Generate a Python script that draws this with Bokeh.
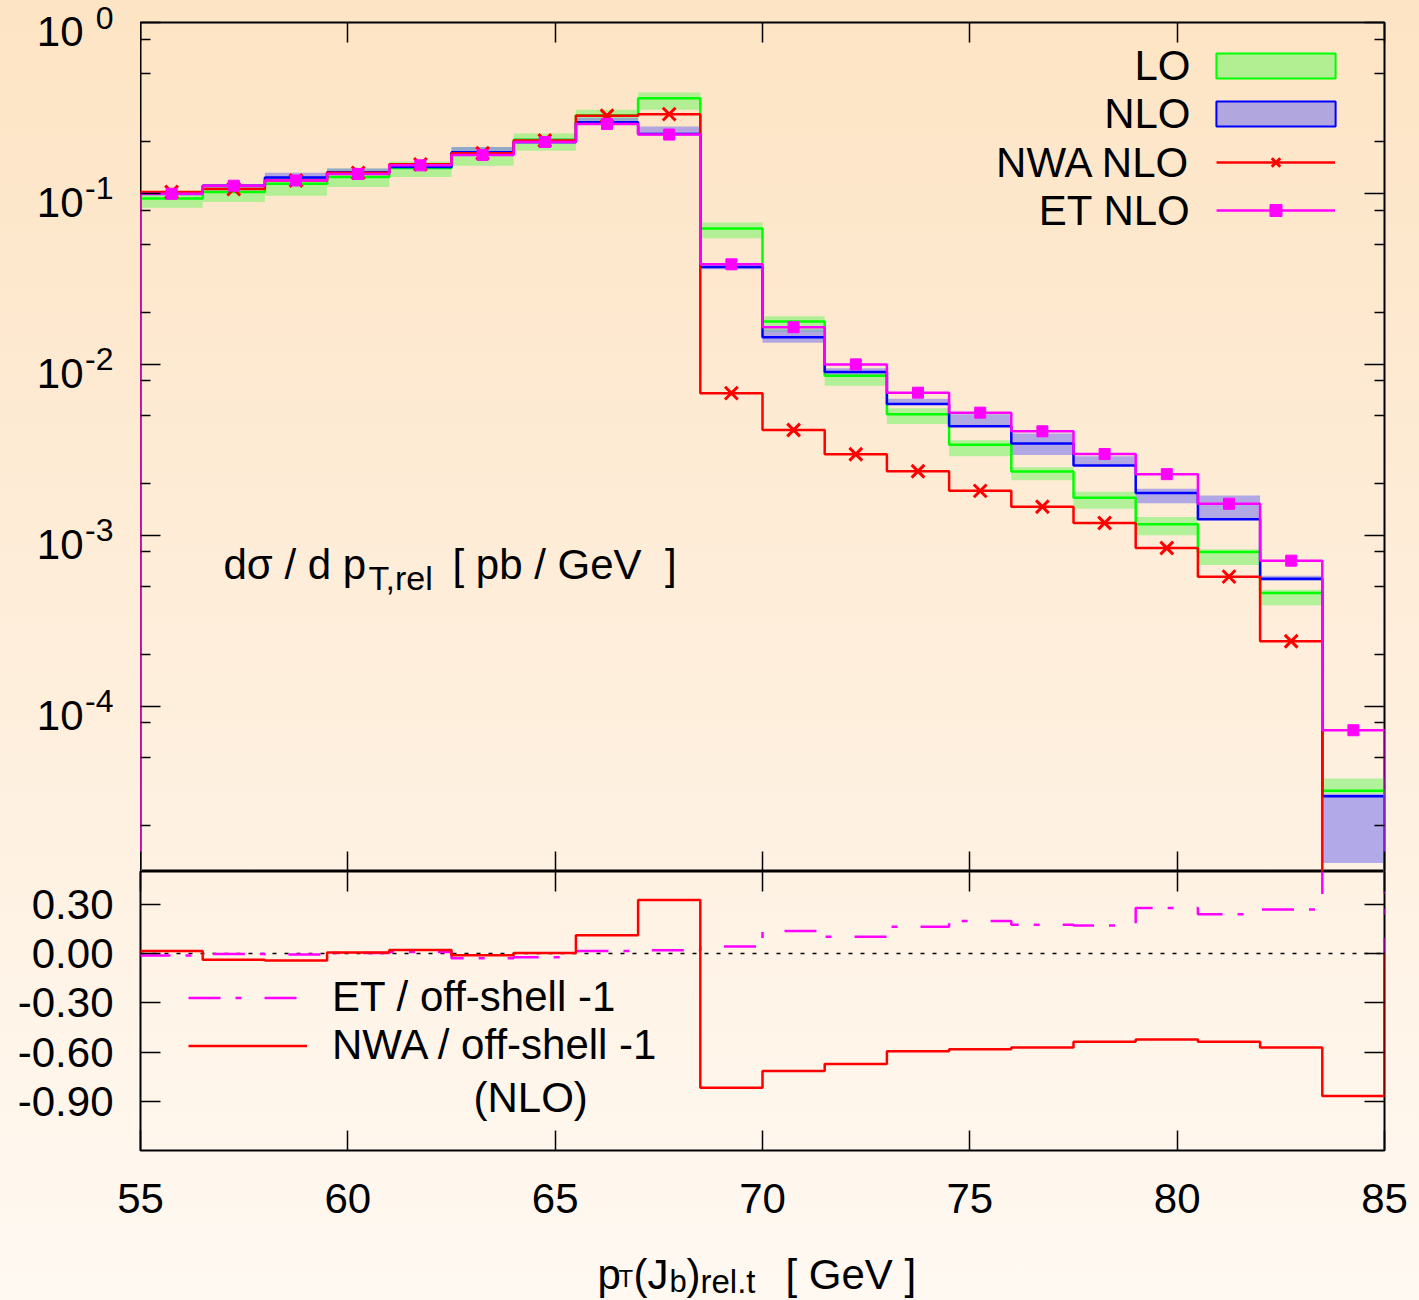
import numpy as np
from bokeh.plotting import figure
from bokeh.layouts import column, row
from bokeh.models import (Range1d, LinearAxis, LogAxis, FixedTicker, Label, Legend,
                          LegendItem, Span, NumeralTickFormatter)
from bokeh.embed import file_html
from bokeh.resources import INLINE

# ---------------- data ----------------
bin_edges = [55.0, 56.5, 58.0, 59.5, 61.0, 62.5, 64.0, 65.5, 67.0, 68.5, 70.0,
             71.5, 73.0, 74.5, 76.0, 77.5, 79.0, 80.5, 82.0, 83.5, 85.0]

lo_central = [0.0935, 0.102, 0.114, 0.125, 0.141, 0.170, 0.206, 0.287, 0.361, 0.0624,
              0.0178, 0.00859, 0.00510, 0.00339, 0.00236, 0.00166, 0.00116, 0.000798,
              0.000460, 3.20e-5]
lo_low = [0.0825, 0.089, 0.097, 0.109, 0.125, 0.145, 0.178, 0.267, 0.309, 0.0546,
          0.0155, 0.0075, 0.00448, 0.0029, 0.0021, 0.00143, 0.00100, 0.00067,
          0.00039, 3.08e-5]
lo_high = [0.0995, 0.111, 0.125, 0.140, 0.154, 0.187, 0.224, 0.309, 0.390, 0.0676,
           0.0191, 0.0088, 0.00553, 0.0036, 0.0025, 0.0018, 0.00128, 0.00083,
           0.00048, 3.78e-5]

nlo_central = [0.100, 0.111, 0.124, 0.133, 0.143, 0.174, 0.200, 0.261, 0.223, 0.0371,
               0.0144, 0.00902, 0.00586, 0.00434, 0.00345, 0.00256, 0.00177, 0.00124,
               0.000557, 2.98e-5]
nlo_low = [0.097, 0.107, 0.119, 0.128, 0.140, 0.168, 0.195, 0.255, 0.219, 0.0360,
           0.0134, 0.0087, 0.00583, 0.00430, 0.00295, 0.00255, 0.00154, 0.00124,
           0.00054, 1.21e-5]
nlo_high = [0.103, 0.113, 0.132, 0.140, 0.150, 0.187, 0.210, 0.277, 0.246, 0.0390,
            0.0160, 0.0095, 0.0063, 0.0051, 0.00394, 0.0029, 0.00187, 0.00171,
            0.00058, 3.08e-5]

nwa_nlo = [0.102, 0.106, 0.119, 0.132, 0.148, 0.172, 0.204, 0.285, 0.291, 0.00679,
           0.00413, 0.00298, 0.00237, 0.00182, 0.00147, 0.00118, 0.000843, 0.000573,
           0.000240, 3.9e-6]
et_nlo = [0.0995, 0.111, 0.119, 0.130, 0.146, 0.168, 0.200, 0.255, 0.221, 0.0385,
          0.0165, 0.0100, 0.00683, 0.00522, 0.00406, 0.00299, 0.00228, 0.00153,
          0.000711, 7.24e-5]

ratio_et = [-0.012, -0.002, -0.005, 0.003, 0.010, -0.028, -0.022, 0.016, 0.020, 0.043,
            0.138, 0.102, 0.163, 0.199, 0.175, 0.171, 0.277, 0.240, 0.268, 1.43]
ratio_nwa = [0.016, -0.037, -0.043, 0.006, 0.021, -0.010, 0.004, 0.112, 0.327, -0.817,
             -0.715, -0.673, -0.595, -0.583, -0.573, -0.538, -0.524, -0.538, -0.573, -0.868]

x_ticks = [55, 60, 65, 70, 75, 80, 85]
y_major_top = [1e-5, 1e-4, 1e-3, 1e-2, 1e-1, 1e0]
y_major_exps = ["-5", "-4", "-3", "-2", "-1", "0"]
y_minor_top = [2e-5, 5e-5, 8e-5, 2e-4, 5e-4, 8e-4, 2e-3, 5e-3, 8e-3,
               2e-2, 5e-2, 8e-2, 0.2, 0.5, 0.8]
ratio_ticks = [-0.9, -0.6, -0.3, 0.0, 0.3]

legend_top_labels = ["LO", "NLO", "NWA NLO", "ET NLO"]
legend_bot_labels = ["ET / off-shell -1", "NWA / off-shell -1"]

Y_MIN, Y_MAX = 1.08e-5, 1.0

# ---------------- styling ----------------
FONT = "Liberation Sans"
FS = "42px"
C_LO_LINE = "#00ff00"
C_NLO_LINE = "#0000ff"
C_NWA = "#ff0000"
C_ET = "#ff00ff"
C_LO_FILL = "#81f470"
C_NLO_FILL = "#7f7ced"
BAND_ALPHA = 0.6
LW = 2.5

TOP_PAD = 22          # px above the top frame
FRAME_H_TOP = 849     # px height of the main frame


def steps(vals, floor):
    xs = [bin_edges[0]]
    ys = [floor]
    for i, v in enumerate(vals):
        xs += [bin_edges[i], bin_edges[i + 1]]
        ys += [v, v]
    xs.append(bin_edges[-1])
    ys.append(floor)
    return xs, ys


centers = [(a + b) / 2 for a, b in zip(bin_edges[:-1], bin_edges[1:])]


def setup_axis(ax, ticker, show_labels, standoff=27):
    ax.ticker = ticker
    ax.axis_line_color = None
    ax.major_tick_in = 20
    ax.major_tick_out = 0
    ax.minor_tick_in = 10
    ax.minor_tick_out = 0
    ax.major_tick_line_color = "black"
    ax.major_tick_line_width = 1.5
    ax.minor_tick_line_color = "black"
    ax.minor_tick_line_width = 1.5
    if show_labels:
        ax.major_label_text_font = FONT
        ax.major_label_text_font_size = FS
        ax.major_label_text_color = "black"
        ax.major_label_standoff = standoff
    else:
        ax.major_label_text_font_size = "0px"
        ax.major_label_text_alpha = 0
        ax.major_label_standoff = 0


def text(fig, t, x, y, size=FS, align="left", x_units="screen", y_units="screen",
         y_offset=0):
    fig.add_layout(Label(x=x, y=y, x_units=x_units, y_units=y_units, text=t,
                         y_offset=y_offset, text_align=align, text_baseline="middle",
                         text_font=FONT, text_font_size=size, text_color="black"))


def blank(fig):
    fig.background_fill_alpha = 0
    fig.border_fill_alpha = 0
    fig.outline_line_color = None
    fig.grid.visible = False


x_range = Range1d(55, 85)

# ================= top panel =================
top = figure(width=1279, height=871, x_range=x_range, y_range=Range1d(Y_MIN, Y_MAX),
             y_axis_type="log", output_backend="svg", toolbar_location=None,
             min_border_left=0, min_border_right=35, min_border_top=TOP_PAD,
             min_border_bottom=0)
top.background_fill_alpha = 0
top.border_fill_alpha = 0
top.outline_line_color = "black"
top.outline_line_width = 2
top.grid.visible = False

setup_axis(top.yaxis[0], FixedTicker(ticks=y_major_top, minor_ticks=y_minor_top), False)
setup_axis(top.xaxis[0], FixedTicker(ticks=x_ticks, minor_ticks=[]), False)
r_ax = LogAxis()
setup_axis(r_ax, FixedTicker(ticks=y_major_top, minor_ticks=y_minor_top), False)
top.add_layout(r_ax, "right")
a_ax = LinearAxis()
setup_axis(a_ax, FixedTicker(ticks=x_ticks, minor_ticks=[]), False)
top.add_layout(a_ax, "above")

# bands
top.quad(left=bin_edges[:-1], right=bin_edges[1:], bottom=lo_low, top=lo_high,
         fill_color=C_LO_FILL, fill_alpha=BAND_ALPHA, line_color=None)
top.quad(left=bin_edges[:-1], right=bin_edges[1:], bottom=nlo_low, top=nlo_high,
         fill_color=C_NLO_FILL, fill_alpha=BAND_ALPHA, line_color=None)

FLOOR = 1e-9
xs, ys = steps(lo_central, FLOOR)
top.line(xs, ys, line_color=C_LO_LINE, line_width=LW)
xs, ys = steps(nlo_central, FLOOR)
top.line(xs, ys, line_color=C_NLO_LINE, line_width=LW)
xs, ys = steps(nwa_nlo, FLOOR)
nwa_line = top.line(xs, ys, line_color=C_NWA, line_width=LW)
nwa_pts = top.scatter(centers, nwa_nlo, marker="x", size=18, line_color=C_NWA, line_width=3)
xs, ys = steps(et_nlo, FLOOR)
et_line = top.line(xs, ys, line_color=C_ET, line_width=LW)
et_pts = top.scatter(centers, et_nlo, marker="square", size=11, fill_color=C_ET, line_color=C_ET)

# legend key renderers: same bands, bordered, hidden in the plot (legend swatch only)
lo_key = top.quad(left=bin_edges[:-1], right=bin_edges[1:], bottom=lo_low, top=lo_high,
                  fill_color=C_LO_FILL, fill_alpha=BAND_ALPHA, line_color=C_LO_LINE,
                  line_width=2, visible=False)
nlo_key = top.quad(left=bin_edges[:-1], right=bin_edges[1:], bottom=nlo_low, top=nlo_high,
                   fill_color=C_NLO_FILL, fill_alpha=BAND_ALPHA, line_color=C_NLO_LINE,
                   line_width=2, visible=False)

leg_a = Legend(items=[LegendItem(label=" ", renderers=[lo_key]),
                      LegendItem(label=" ", renderers=[nlo_key])],
               location=(1061, 742), glyph_width=149, glyph_height=31, spacing=17,
               padding=0, margin=0, label_standoff=0, label_text_font_size="1px",
               label_height=1, label_width=1, inactive_fill_alpha=0,
               border_line_alpha=0, background_fill_alpha=0)
leg_b = Legend(items=[LegendItem(label=" ", renderers=[nwa_line, nwa_pts]),
                      LegendItem(label=" ", renderers=[et_line, et_pts])],
               location=(1076, 646), glyph_width=119, glyph_height=30, spacing=18,
               padding=0, margin=0, label_standoff=0, label_text_font_size="1px",
               label_height=1, label_width=1,
               border_line_alpha=0, background_fill_alpha=0)
top.add_layout(leg_a)
top.add_layout(leg_b)

for txt, yy in zip(legend_top_labels, [806, 758, 709, 661]):
    text(top, txt, 1050, yy, align="right")

# y label inside the plot
text(top, "dσ / d p", 83, 307)
text(top, "T,rel", 228, 294, size="34px")
text(top, "[ pb / GeV \u00a0]", 312, 307)

# ---------- strip left of the top panel: "10" with raised exponent ----------
decades = np.log10(Y_MAX / Y_MIN)
y_top_ext = Y_MAX * 10 ** (TOP_PAD * decades / FRAME_H_TOP)
ylab = figure(width=140, height=871, x_range=Range1d(0, 1),
              y_range=Range1d(Y_MIN, y_top_ext), y_axis_type="log",
              x_axis_location=None, y_axis_location=None,
              output_backend="svg", toolbar_location=None,
              min_border_left=0, min_border_right=0, min_border_top=0,
              min_border_bottom=0, frame_align=False)
blank(ylab)
for tv, ex in zip(y_major_top, y_major_exps):
    if Y_MIN <= tv <= Y_MAX:
        text(ylab, "10", 83, tv, align="right", y_units="data", y_offset=-9)
        text(ylab, ex, 113, tv, size="32px", align="right", y_units="data", y_offset=5)

# ================= ratio panel =================
bot = figure(width=1419, height=369, x_range=x_range, y_range=Range1d(-1.2, 0.5),
             output_backend="svg", toolbar_location=None,
             min_border_left=140, min_border_right=35, min_border_top=0,
             min_border_bottom=90)
bot.background_fill_alpha = 0
bot.border_fill_alpha = 0
bot.outline_line_color = "black"
bot.outline_line_width = 2
bot.grid.visible = False

setup_axis(bot.yaxis[0], FixedTicker(ticks=ratio_ticks, minor_ticks=[]), True)
bot.yaxis[0].formatter = NumeralTickFormatter(format="0.00")
setup_axis(bot.xaxis[0], FixedTicker(ticks=x_ticks, minor_ticks=[]), True, standoff=33)
rb_ax = LinearAxis()
setup_axis(rb_ax, FixedTicker(ticks=ratio_ticks, minor_ticks=[]), False)
bot.add_layout(rb_ax, "right")
ab_ax = LinearAxis()
setup_axis(ab_ax, FixedTicker(ticks=x_ticks, minor_ticks=[]), False)
bot.add_layout(ab_ax, "above")

bot.add_layout(Span(location=0, dimension="width", line_color="black", line_width=1.5,
                    line_dash="4 8", level="underlay"))

xs, ys = steps(ratio_et, 0.0)
et_r = bot.line(xs, ys, line_color=C_ET, line_width=LW, line_dash="32 15 6 23")
xs, ys = steps(ratio_nwa, 0.0)
nwa_r = bot.line(xs, ys, line_color=C_NWA, line_width=LW)

leg_r = Legend(items=[LegendItem(label=legend_bot_labels[0], renderers=[et_r]),
                      LegendItem(label=legend_bot_labels[1], renderers=[nwa_r])],
               location=(48, 81), glyph_width=119, glyph_height=25, spacing=0,
               padding=0, margin=0, label_standoff=25, label_text_font=FONT,
               label_text_font_size=FS, label_text_color="black",
               border_line_alpha=0, background_fill_alpha=0)
bot.add_layout(leg_r)
text(bot, "(NLO)", 333, 53)

# ---------- x-axis title strip ----------
xt = figure(width=1419, height=60, x_range=Range1d(0, 1), y_range=Range1d(0, 1),
            x_axis_location=None, y_axis_location=None,
            output_backend="svg", toolbar_location=None,
            min_border_left=0, min_border_right=0, min_border_top=0,
            min_border_bottom=0, frame_align=False)
blank(xt)
xl = [("p", 597, 26, FS), ("T", 618, 22, "24px"), ("(J", 633, 26, FS),
      ("b", 669, 19, "31px"), (")", 686, 26, FS), ("rel.t", 700, 19, "33px"),
      ("[ GeV ]", 785, 26, FS)]
for t, x, y, fs in xl:
    text(xt, t, x, y, size=fs)

layout = column(row(ylab, top, spacing=0), bot, xt, spacing=0,
                styles={"background": "linear-gradient(to bottom, #fde4c4 0%, #feeedb 50%, #fff9f2 100%)"})

open("out.html", "w").write(file_html(layout, INLINE))
